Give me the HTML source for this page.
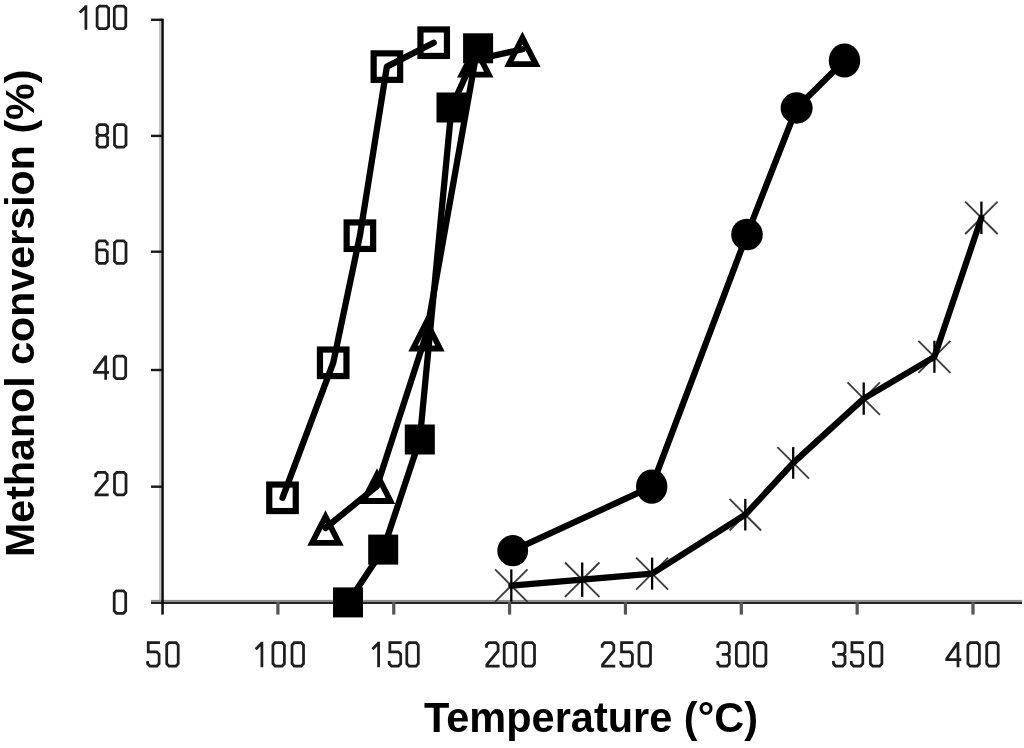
<!DOCTYPE html>
<html><head><meta charset="utf-8"><style>
html,body{margin:0;padding:0;background:#fff;}
body{width:1024px;height:748px;position:relative;overflow:hidden;font-family:"Liberation Sans",sans-serif;}
#w{position:absolute;left:0;top:0;width:1024px;height:748px;filter:grayscale(1);}
svg{position:absolute;left:0;top:0;}
.xt{position:absolute;left:0;top:0;font-weight:bold;font-size:41.5px;transform:scaleY(1.04);transform-origin:0 0;color:#000;white-space:nowrap;line-height:1;}
.yt{position:absolute;font-weight:bold;font-size:41.2px;color:#000;white-space:nowrap;line-height:1;transform-origin:0 0;transform:rotate(-90deg);}
</style></head><body><div id="w">
<svg width="1024" height="748" viewBox="0 0 1024 748">
<g>
<rect x="158.9" y="18.6" width="2.4" height="582" fill="#c4c4c4"/>
<rect x="151" y="18.6" width="11" height="2.4" fill="#1a1a1a"/>
<rect x="151" y="134.70000000000002" width="11" height="2.4" fill="#1a1a1a"/>
<rect x="151" y="250.5" width="11" height="2.4" fill="#1a1a1a"/>
<rect x="151" y="368.8" width="11" height="2.4" fill="#1a1a1a"/>
<rect x="151" y="485.5" width="11" height="2.4" fill="#1a1a1a"/>
<rect x="151" y="599.9" width="871" height="2.1" fill="#8e8e8e"/>
<rect x="151" y="602.0" width="871" height="2.0" fill="#262626"/>
<rect x="161.3" y="18.6" width="2.5" height="596" fill="#0d0d0d"/>
<rect x="276.29999999999995" y="602" width="3.2" height="12.6" fill="#555"/>
<rect x="392.15" y="602" width="3.2" height="12.6" fill="#555"/>
<rect x="507.99999999999994" y="602" width="3.2" height="12.6" fill="#555"/>
<rect x="623.8499999999999" y="602" width="3.2" height="12.6" fill="#555"/>
<rect x="739.6999999999999" y="602" width="3.2" height="12.6" fill="#555"/>
<rect x="855.55" y="602" width="3.2" height="12.6" fill="#555"/>
<rect x="971.3999999999999" y="602" width="3.2" height="12.6" fill="#555"/>
<polyline fill="none" stroke="#000" stroke-width="6.3" stroke-linejoin="round" stroke-linecap="round" points="282.5,497.8 333.2,362.8 359.9,235.7 386.9,66.6 433.7,42.7"/>
<polyline fill="none" stroke="#000" stroke-width="6.3" stroke-linejoin="round" stroke-linecap="round" points="325.5,528 377,486.1 426.5,333.6 475.3,59.8 522.4,49.3"/>
<polyline fill="none" stroke="#000" stroke-width="6.3" stroke-linejoin="round" stroke-linecap="round" points="348,602.4 383.2,549.6 419.8,439.5 451.5,107.5 478.1,48.3"/>
<polyline fill="none" stroke="#000" stroke-width="6.3" stroke-linejoin="round" stroke-linecap="round" points="512.7,550.7 651.7,486.6 747,234.5 796.6,108 844.5,60.5"/>
<line x1="495.1" y1="569.4" x2="527.5" y2="601.8000000000001" stroke="#3c3c3c" stroke-width="1.9"/>
<line x1="495.1" y1="601.8000000000001" x2="527.5" y2="569.4" stroke="#3c3c3c" stroke-width="1.9"/>
<line x1="565.0" y1="562.5" x2="599.4000000000001" y2="596.9000000000001" stroke="#3c3c3c" stroke-width="1.9"/>
<line x1="565.0" y1="596.9000000000001" x2="599.4000000000001" y2="562.5" stroke="#3c3c3c" stroke-width="1.9"/>
<line x1="636.1" y1="557.6" x2="668.1" y2="589.6" stroke="#3c3c3c" stroke-width="1.9"/>
<line x1="636.1" y1="589.6" x2="668.1" y2="557.6" stroke="#3c3c3c" stroke-width="1.9"/>
<line x1="729.5" y1="498.90000000000003" x2="761.0999999999999" y2="530.5" stroke="#3c3c3c" stroke-width="1.9"/>
<line x1="729.5" y1="530.5" x2="761.0999999999999" y2="498.90000000000003" stroke="#3c3c3c" stroke-width="1.9"/>
<line x1="777.4000000000001" y1="447.09999999999997" x2="809.0" y2="478.7" stroke="#3c3c3c" stroke-width="1.9"/>
<line x1="777.4000000000001" y1="478.7" x2="809.0" y2="447.09999999999997" stroke="#3c3c3c" stroke-width="1.9"/>
<line x1="847.5" y1="382.40000000000003" x2="879.9000000000001" y2="414.8" stroke="#3c3c3c" stroke-width="1.9"/>
<line x1="847.5" y1="414.8" x2="879.9000000000001" y2="382.40000000000003" stroke="#3c3c3c" stroke-width="1.9"/>
<line x1="918.4" y1="340.8" x2="950.4" y2="372.8" stroke="#3c3c3c" stroke-width="1.9"/>
<line x1="918.4" y1="372.8" x2="950.4" y2="340.8" stroke="#3c3c3c" stroke-width="1.9"/>
<line x1="965.1999999999999" y1="201.60000000000002" x2="997.6" y2="234.0" stroke="#3c3c3c" stroke-width="1.9"/>
<line x1="965.1999999999999" y1="234.0" x2="997.6" y2="201.60000000000002" stroke="#3c3c3c" stroke-width="1.9"/>
<polyline fill="none" stroke="#000" stroke-width="6.2" stroke-linejoin="round" stroke-linecap="round" points="511.3,585.6 582.2,579.7 652.1,573.6 745.3,514.7 793.2,462.9 863.7,398.6 934.4,356.8 981.4,217.8"/>
<line x1="511.3" y1="569.4" x2="511.3" y2="601.8000000000001" stroke="#000" stroke-width="2.3"/>
<line x1="582.2" y1="562.5" x2="582.2" y2="596.9000000000001" stroke="#000" stroke-width="2.3"/>
<line x1="652.1" y1="557.6" x2="652.1" y2="589.6" stroke="#000" stroke-width="2.3"/>
<line x1="745.3" y1="498.90000000000003" x2="745.3" y2="530.5" stroke="#000" stroke-width="2.3"/>
<line x1="793.2" y1="447.09999999999997" x2="793.2" y2="478.7" stroke="#000" stroke-width="2.3"/>
<line x1="863.7" y1="382.40000000000003" x2="863.7" y2="414.8" stroke="#000" stroke-width="2.3"/>
<line x1="934.4" y1="340.8" x2="934.4" y2="372.8" stroke="#000" stroke-width="2.3"/>
<line x1="981.4" y1="201.60000000000002" x2="981.4" y2="234.0" stroke="#000" stroke-width="2.3"/>
<rect x="269.25" y="484.55" width="26.5" height="26.5" fill="none" stroke="#000" stroke-width="6.2"/>
<rect x="319.95" y="349.55" width="26.5" height="26.5" fill="none" stroke="#000" stroke-width="6.2"/>
<rect x="346.65" y="222.45" width="26.5" height="26.5" fill="none" stroke="#000" stroke-width="6.2"/>
<rect x="373.65" y="53.349999999999994" width="26.5" height="26.5" fill="none" stroke="#000" stroke-width="6.2"/>
<rect x="420.45" y="29.450000000000003" width="26.5" height="26.5" fill="none" stroke="#000" stroke-width="6.2"/>
<path d="M325.50,510.20 L343.70,545.80 L307.30,545.80 Z M325.50,522.94 L334.22,540.00 L316.78,540.00 Z" fill="#000" fill-rule="evenodd"/>
<path d="M377.00,468.30 L395.20,503.90 L358.80,503.90 Z M377.00,481.04 L385.72,498.10 L368.28,498.10 Z" fill="#000" fill-rule="evenodd"/>
<path d="M426.50,315.80 L444.70,351.40 L408.30,351.40 Z M426.50,328.54 L435.22,345.60 L417.78,345.60 Z" fill="#000" fill-rule="evenodd"/>
<path d="M475.30,42.00 L493.50,77.60 L457.10,77.60 Z M475.30,54.74 L484.02,71.80 L466.58,71.80 Z" fill="#000" fill-rule="evenodd"/>
<path d="M522.40,31.50 L540.60,67.10 L504.20,67.10 Z M522.40,44.24 L531.12,61.30 L513.68,61.30 Z" fill="#000" fill-rule="evenodd"/>
<rect x="333.0" y="587.4" width="30" height="30" fill="#000"/>
<rect x="368.2" y="534.6" width="30" height="30" fill="#000"/>
<rect x="404.8" y="424.5" width="30" height="30" fill="#000"/>
<rect x="436.5" y="92.5" width="30" height="30" fill="#000"/>
<rect x="463.1" y="33.3" width="30" height="30" fill="#000"/>
<ellipse cx="512.7" cy="550.7" rx="15.4" ry="15.6" fill="#000"/>
<ellipse cx="651.7" cy="486.6" rx="15.7" ry="17.2" fill="#000"/>
<ellipse cx="747" cy="234.5" rx="15.8" ry="15.8" fill="#000"/>
<ellipse cx="796.6" cy="108" rx="16" ry="15.7" fill="#000"/>
<ellipse cx="844.5" cy="60.5" rx="15.7" ry="17" fill="#000"/>
<g fill="none" stroke="#1e1e1e" stroke-width="2.75" stroke-linejoin="miter" stroke-linecap="butt"><path transform="translate(77.30,4.85) scale(1.0,1.0000)" d="M8.6,0.3 V24.9 M8.6,1.6 L2.4,7.6" vector-effect="non-scaling-stroke"/><path transform="translate(95.85,4.85) scale(1.0,1.0000)" d="M3.5,1.25 H10.5 L12.75,3.5 V21.5 L10.5,23.75 H3.5 L1.25,21.5 V3.5 Z" vector-effect="non-scaling-stroke"/><path transform="translate(113.05,4.85) scale(1.0,1.0000)" d="M3.5,1.25 H10.5 L12.75,3.5 V21.5 L10.5,23.75 H3.5 L1.25,21.5 V3.5 Z" vector-effect="non-scaling-stroke"/></g>
<g fill="none" stroke="#1e1e1e" stroke-width="2.75" stroke-linejoin="miter" stroke-linecap="butt"><path transform="translate(95.85,123.40) scale(1.0,1.0000)" d="M3.3,1.25 H9.6 L11.7,3.3 V9.9 L9.6,12 H3.3 L1.25,9.9 V3.3 Z M3.3,12 L1.25,14.1 V21.7 L3.3,23.75 H9.6 L11.7,21.7 V14.1 L9.6,12" vector-effect="non-scaling-stroke"/><path transform="translate(113.25,123.40) scale(1.0,1.0000)" d="M3.5,1.25 H10.5 L12.75,3.5 V21.5 L10.5,23.75 H3.5 L1.25,21.5 V3.5 Z" vector-effect="non-scaling-stroke"/></g>
<g fill="none" stroke="#1e1e1e" stroke-width="2.75" stroke-linejoin="miter" stroke-linecap="butt"><path transform="translate(95.55,239.60) scale(1.0,1.0000)" d="M11.7,5.8 V3.5 L9.6,1.25 H3.4 L1.25,3.5 V21.5 L3.4,23.75 H9.6 L11.7,21.5 V12.45 L9.6,10.2 H1.25" vector-effect="non-scaling-stroke"/><path transform="translate(113.25,239.60) scale(1.0,1.0000)" d="M3.5,1.25 H10.5 L12.75,3.5 V21.5 L10.5,23.75 H3.5 L1.25,21.5 V3.5 Z" vector-effect="non-scaling-stroke"/></g>
<g fill="none" stroke="#1e1e1e" stroke-width="2.75" stroke-linejoin="miter" stroke-linecap="butt"><path transform="translate(94.80,354.90) scale(1.0,1.0000)" d="M10.9,24.9 V0.6 M10.9,1.2 L-0.4,16.6 V17.6 H14.2" vector-effect="non-scaling-stroke"/><path transform="translate(112.95,354.90) scale(1.0,1.0000)" d="M3.5,1.25 H10.5 L12.75,3.5 V21.5 L10.5,23.75 H3.5 L1.25,21.5 V3.5 Z" vector-effect="non-scaling-stroke"/></g>
<g fill="none" stroke="#1e1e1e" stroke-width="2.75" stroke-linejoin="miter" stroke-linecap="butt"><path transform="translate(94.35,471.00) scale(1.0,1.0000)" d="M1.25,6.2 V3.5 L3.5,1.25 H10.6 L12.85,3.5 V9.2 L1.6,22.4 V23.75 H14.3" vector-effect="non-scaling-stroke"/><path transform="translate(113.25,471.00) scale(1.0,1.0000)" d="M3.5,1.25 H10.5 L12.75,3.5 V21.5 L10.5,23.75 H3.5 L1.25,21.5 V3.5 Z" vector-effect="non-scaling-stroke"/></g>
<g fill="none" stroke="#1e1e1e" stroke-width="2.75" stroke-linejoin="miter" stroke-linecap="butt"><path transform="translate(112.95,589.50) scale(1.0,1.0000)" d="M3.5,1.25 H10.5 L12.75,3.5 V21.5 L10.5,23.75 H3.5 L1.25,21.5 V3.5 Z" vector-effect="non-scaling-stroke"/></g>
<g fill="none" stroke="#1e1e1e" stroke-width="2.75" stroke-linejoin="miter" stroke-linecap="butt"><path transform="translate(146.35,641.40) scale(1.0,1.0360)" d="M13.6,1.25 H1.9 V10.2 H10.5 L12.75,12.45 V21.5 L10.5,23.75 H3.5 L1.25,21.5 V18.8" vector-effect="non-scaling-stroke"/><path transform="translate(165.45,641.40) scale(1.0,1.0360)" d="M3.5,1.25 H10.5 L12.75,3.5 V21.5 L10.5,23.75 H3.5 L1.25,21.5 V3.5 Z" vector-effect="non-scaling-stroke"/></g>
<g fill="none" stroke="#1e1e1e" stroke-width="2.75" stroke-linejoin="miter" stroke-linecap="butt"><path transform="translate(253.30,641.40) scale(1.0,1.0360)" d="M8.6,0.3 V24.9 M8.6,1.6 L2.4,7.6" vector-effect="non-scaling-stroke"/><path transform="translate(271.65,641.40) scale(1.0,1.0360)" d="M3.5,1.25 H10.5 L12.75,3.5 V21.5 L10.5,23.75 H3.5 L1.25,21.5 V3.5 Z" vector-effect="non-scaling-stroke"/><path transform="translate(290.75,641.40) scale(1.0,1.0360)" d="M3.5,1.25 H10.5 L12.75,3.5 V21.5 L10.5,23.75 H3.5 L1.25,21.5 V3.5 Z" vector-effect="non-scaling-stroke"/></g>
<g fill="none" stroke="#1e1e1e" stroke-width="2.75" stroke-linejoin="miter" stroke-linecap="butt"><path transform="translate(370.00,641.40) scale(1.0,1.0360)" d="M8.6,0.3 V24.9 M8.6,1.6 L2.4,7.6" vector-effect="non-scaling-stroke"/><path transform="translate(387.95,641.40) scale(1.0,1.0360)" d="M13.6,1.25 H1.9 V10.2 H10.5 L12.75,12.45 V21.5 L10.5,23.75 H3.5 L1.25,21.5 V18.8" vector-effect="non-scaling-stroke"/><path transform="translate(405.55,641.40) scale(1.0,1.0360)" d="M3.5,1.25 H10.5 L12.75,3.5 V21.5 L10.5,23.75 H3.5 L1.25,21.5 V3.5 Z" vector-effect="non-scaling-stroke"/></g>
<g fill="none" stroke="#1e1e1e" stroke-width="2.75" stroke-linejoin="miter" stroke-linecap="butt"><path transform="translate(485.25,641.40) scale(1.0,1.0360)" d="M1.25,6.2 V3.5 L3.5,1.25 H10.6 L12.85,3.5 V9.2 L1.6,22.4 V23.75 H14.3" vector-effect="non-scaling-stroke"/><path transform="translate(502.95,641.40) scale(1.0,1.0360)" d="M3.5,1.25 H10.5 L12.75,3.5 V21.5 L10.5,23.75 H3.5 L1.25,21.5 V3.5 Z" vector-effect="non-scaling-stroke"/><path transform="translate(521.75,641.40) scale(1.0,1.0360)" d="M3.5,1.25 H10.5 L12.75,3.5 V21.5 L10.5,23.75 H3.5 L1.25,21.5 V3.5 Z" vector-effect="non-scaling-stroke"/></g>
<g fill="none" stroke="#1e1e1e" stroke-width="2.75" stroke-linejoin="miter" stroke-linecap="butt"><path transform="translate(600.95,641.40) scale(1.0,1.0360)" d="M1.25,6.2 V3.5 L3.5,1.25 H10.6 L12.85,3.5 V9.2 L1.6,22.4 V23.75 H14.3" vector-effect="non-scaling-stroke"/><path transform="translate(619.65,641.40) scale(1.0,1.0360)" d="M13.6,1.25 H1.9 V10.2 H10.5 L12.75,12.45 V21.5 L10.5,23.75 H3.5 L1.25,21.5 V18.8" vector-effect="non-scaling-stroke"/><path transform="translate(637.75,641.40) scale(1.0,1.0360)" d="M3.5,1.25 H10.5 L12.75,3.5 V21.5 L10.5,23.75 H3.5 L1.25,21.5 V3.5 Z" vector-effect="non-scaling-stroke"/></g>
<g fill="none" stroke="#1e1e1e" stroke-width="2.75" stroke-linejoin="miter" stroke-linecap="butt"><path transform="translate(716.55,641.40) scale(1.0,1.0360)" d="M1.25,6.2 V3.5 L3.5,1.25 H10.5 L12.75,3.5 V10.4 L10.7,12.5 H5.2 M10.7,12.5 L12.75,14.6 V21.5 L10.5,23.75 H3.5 L1.25,21.5 V18.8" vector-effect="non-scaling-stroke"/><path transform="translate(735.15,641.40) scale(1.0,1.0360)" d="M3.5,1.25 H10.5 L12.75,3.5 V21.5 L10.5,23.75 H3.5 L1.25,21.5 V3.5 Z" vector-effect="non-scaling-stroke"/><path transform="translate(753.15,641.40) scale(1.0,1.0360)" d="M3.5,1.25 H10.5 L12.75,3.5 V21.5 L10.5,23.75 H3.5 L1.25,21.5 V3.5 Z" vector-effect="non-scaling-stroke"/></g>
<g fill="none" stroke="#1e1e1e" stroke-width="2.75" stroke-linejoin="miter" stroke-linecap="butt"><path transform="translate(832.25,641.40) scale(1.0,1.0360)" d="M1.25,6.2 V3.5 L3.5,1.25 H10.5 L12.75,3.5 V10.4 L10.7,12.5 H5.2 M10.7,12.5 L12.75,14.6 V21.5 L10.5,23.75 H3.5 L1.25,21.5 V18.8" vector-effect="non-scaling-stroke"/><path transform="translate(850.05,641.40) scale(1.0,1.0360)" d="M13.6,1.25 H1.9 V10.2 H10.5 L12.75,12.45 V21.5 L10.5,23.75 H3.5 L1.25,21.5 V18.8" vector-effect="non-scaling-stroke"/><path transform="translate(869.15,641.40) scale(1.0,1.0360)" d="M3.5,1.25 H10.5 L12.75,3.5 V21.5 L10.5,23.75 H3.5 L1.25,21.5 V3.5 Z" vector-effect="non-scaling-stroke"/></g>
<g fill="none" stroke="#1e1e1e" stroke-width="2.75" stroke-linejoin="miter" stroke-linecap="butt"><path transform="translate(947.10,641.40) scale(1.0,1.0360)" d="M10.9,24.9 V0.6 M10.9,1.2 L-0.4,16.6 V17.6 H14.2" vector-effect="non-scaling-stroke"/><path transform="translate(966.65,641.40) scale(1.0,1.0360)" d="M3.5,1.25 H10.5 L12.75,3.5 V21.5 L10.5,23.75 H3.5 L1.25,21.5 V3.5 Z" vector-effect="non-scaling-stroke"/><path transform="translate(985.45,641.40) scale(1.0,1.0360)" d="M3.5,1.25 H10.5 L12.75,3.5 V21.5 L10.5,23.75 H3.5 L1.25,21.5 V3.5 Z" vector-effect="non-scaling-stroke"/></g>
</g>
</svg>
<div class="xt" style="left:424px;top:695.5px">Temperature (°C)</div>
<div class="yt" style="left:-0.5px;top:556.8px">Methanol conversion (%)</div>
</div></body></html>
